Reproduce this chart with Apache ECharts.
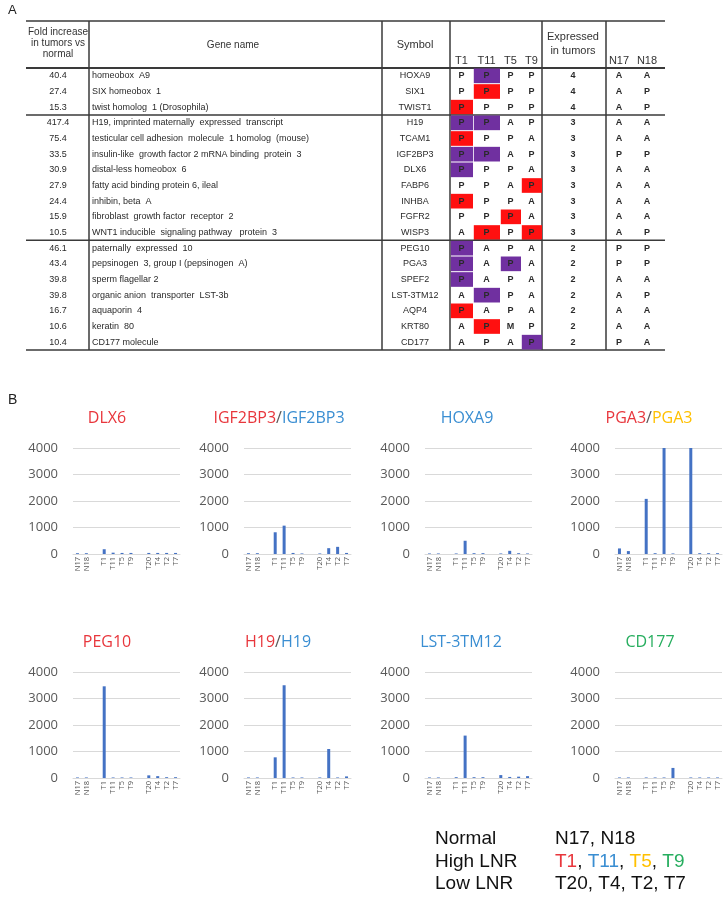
<!DOCTYPE html>
<html><head><meta charset="utf-8">
<script src="https://cdn.jsdelivr.net/npm/echarts@6/dist/echarts.min.js"></script>
<style>html,body{margin:0;padding:0;background:#fff}#c{width:724px;height:899px}</style>
</head><body><div id="c"></div>
<script>
// ---------------- Table (panel A) data ----------------
const foldIncrease = ['40.4','27.4','15.3','417.4','75.4','33.5','30.9','27.9','24.4','15.9','10.5','46.1','43.4','39.8','39.8','16.7','10.6','10.4'];
const geneNames = ['homeobox  A9','SIX homeobox  1','twist homolog  1 (Drosophila)','H19, imprinted maternally  expressed  transcript','testicular cell adhesion  molecule  1 homolog  (mouse)','insulin-like  growth factor 2 mRNA binding  protein  3','distal-less homeobox  6','fatty acid binding protein 6, ileal','inhibin, beta  A','fibroblast  growth factor  receptor  2','WNT1 inducible  signaling pathway   protein  3','paternally  expressed  10','pepsinogen  3, group I (pepsinogen  A)','sperm flagellar 2','organic anion  transporter  LST-3b','aquaporin  4','keratin  80','CD177 molecule'];
const symbols = ['HOXA9','SIX1','TWIST1','H19','TCAM1','IGF2BP3','DLX6','FABP6','INHBA','FGFR2','WISP3','PEG10','PGA3','SPEF2','LST-3TM12','AQP4','KRT80','CD177'];
const tumorColumns = ['T1','T11','T5','T9'];
const tumorCalls = ['PPPP','PPPP','PPPP','PPAP','PPPA','PPAP','PPPA','PPAP','PPPA','PPPA','APPP','PAPA','PAPA','PAPA','APPA','PAPA','APMP','APAP'];
// V = purple highlight, R = red highlight, - = none
const tumorHighlight = ['-V--','-R--','R---','VV--','R---','VV--','V---','---R','R---','--R-','-R-R','V---','V-V-','V---','-V--','R---','-R--','---V'];
const expressedInTumors = [4,4,4,3,3,3,3,3,3,3,3,2,2,2,2,2,2,2];
const normalColumns = ['N17','N18'];
const normalCalls = ['AA','AP','AP','AA','AA','PP','AA','AA','AA','AA','AP','PP','PP','AA','AP','AA','AA','PA'];
const groupBreaks = [3, 11];

// ---------------- Bar charts (panel B) data ----------------
const barCategories = ['N17','N18','','T1','T11','T5','T9','','T20','T4','T2','T7'];
const yTicks = [0, 1000, 2000, 3000, 4000];
const chartTitles = [
  [['DLX6','red']],
  [['IGF2BP3','red'],['/','grey'],['IGF2BP3','blue']],
  [['HOXA9','blue']],
  [['PGA3','red'],['/','grey'],['PGA3','yellow']],
  [['PEG10','red']],
  [['H19','red'],['/','grey'],['H19','blue']],
  [['LST-3TM12','blue']],
  [['CD177','green']]
];
const dlx6    = [30, 30, null, 180, 50, 40, 40, null, 40, 40, 40, 40];
const igf2bp3 = [30, 30, null, 820, 1070, 40, 20, null, 20, 220, 270, 40];
const hoxa9   = [20, 20, null, 20, 500, 30, 30, null, 20, 120, 30, 20];
const pga3    = [210, 110, null, 2080, 30, 4000, 20, null, 4000, 30, 30, 30];
const peg10   = [20, 20, null, 3460, 20, 20, 20, null, 100, 70, 30, 30];
const h19     = [20, 20, null, 780, 3500, 20, 20, null, 20, 1095, 20, 60];
const lst3tm12= [20, 20, null, 30, 1600, 30, 30, null, 110, 40, 50, 70];
const cd177   = [20, 20, null, 20, 20, 20, 380, null, 20, 20, 20, 20];
const chartSeries = [dlx6, igf2bp3, hoxa9, pga3, peg10, h19, lst3tm12, cd177];

// ---------------- Legend text ----------------
const legendRows = [
  ['Normal', [['N17, N18','black']]],
  ['High LNR', [['T1','red'],[', ','black'],['T11','blue'],[', ','black'],['T5','yellow'],[', ','black'],['T9','green']]],
  ['Low LNR', [['T20, T4, T2, T7','black']]]
];

// ---------------- Styles / layout ----------------
const palette = {red:'#E8363C', blue:'#3A8ED2', yellow:'#FFC000', green:'#27AE5F', grey:'#595959', black:'#111'};
const tableFont = '"Liberation Sans", Arial, sans-serif';
const chartFont = '"Open Sans", sans-serif';
const tbl = {left:26, right:665, top:21, headBottom:68, bottom:350,
  vlines:[89,382,450,542,606], foldX:58, geneX:92, symX:415,
  tCells:[[450,473],[473,500],[500,521],[521,542]], exprX:573, nX:[619,647]};
const hiColor = {V:'#7030A0', R:'#FF1010'};
const gridLefts = [73, 244, 425, 615];
const gridTops = [448, 672];
const gridW = 107, gridH = 106;
const titleX = [107, 279, 467, 649, 107, 278, 461, 650];
const titleY = [418, 642];

const chart = echarts.init(document.getElementById('c'), null, {renderer:'canvas'});

// ---- graphics: table frame/header, panel labels, chart titles, legend ----
const graphics = [];
const gText = (x, y, text, opts) => graphics.push(Object.assign({type:'text', x, y, silent:true,
  style: Object.assign({text, fill:'#333', font:'10px ' + tableFont, align:'center', verticalAlign:'middle'}, opts||{})}));
const gLine = (x1,y1,x2,y2,w) => graphics.push({type:'line', silent:true, shape:{x1,y1,x2,y2}, style:{stroke:'#3a3a3a', lineWidth:w||1.3}});

gText(8, 10, 'A', {align:'left', font:'13px ' + tableFont, fill:'#222'});
gText(8, 400, 'B', {align:'left', font:'14px ' + tableFont, fill:'#222'});

gLine(tbl.left, tbl.top, tbl.right, tbl.top, 1.5);
gLine(tbl.left, tbl.headBottom, tbl.right, tbl.headBottom, 2);
gLine(tbl.left, tbl.bottom, tbl.right, tbl.bottom, 1.5);
tbl.vlines.forEach(x => gLine(x, tbl.top, x, tbl.bottom, 1.5));

gText(tbl.foldX, 32, 'Fold increase');
gText(tbl.foldX, 43, 'in tumors vs');
gText(tbl.foldX, 54, 'normal');
gText(233, 45, 'Gene name');
gText(tbl.symX, 45, 'Symbol', {font:'11px ' + tableFont});
tumorColumns.forEach((t,i) => gText((tbl.tCells[i][0]+tbl.tCells[i][1])/2, 61, t, {font:'11px ' + tableFont}));
gText(tbl.exprX, 37, 'Expressed', {font:'11px ' + tableFont});
gText(tbl.exprX, 51, 'in tumors', {font:'11px ' + tableFont});
normalColumns.forEach((n,i) => gText(tbl.nX[i], 61, n, {font:'11px ' + tableFont}));

function richFromParts(parts, size, family){
  const rich = {}; let text = '';
  parts.forEach((p, i) => {
    const key = 's' + i;
    rich[key] = {fill: palette[p[1]], font: size + 'px ' + family};
    text += '{' + key + '|' + p[0] + '}';
  });
  return {text, rich};
}
chartTitles.forEach((parts, i) => {
  const r = richFromParts(parts, 16, chartFont);
  graphics.push({type:'text', silent:true, x: titleX[i], y: titleY[Math.floor(i/4)],
    style:{text:r.text, rich:r.rich, align:'center', verticalAlign:'middle', font:'16px ' + chartFont}});
});

legendRows.forEach((row, i) => {
  const y = 839 + i * 22.5;
  gText(435, y, row[0], {align:'left', font:'19px ' + tableFont, fill:'#111'});
  const r = richFromParts(row[1], 19, tableFont);
  graphics.push({type:'text', silent:true, x:555, y,
    style:{text:r.text, rich:r.rich, align:'left', verticalAlign:'middle', font:'19px ' + tableFont}});
});

// ---- grids and axes ----
const grids = [], xAxes = [], yAxes = [], series = [];
// table grid (index 0): rows as category axis, x in page pixels
grids.push({left:0, right:0, top:tbl.headBottom, height:tbl.bottom - tbl.headBottom});
xAxes.push({type:'value', gridIndex:0, min:0, max:724, show:false});
yAxes.push({type:'category', gridIndex:0, data:symbols, inverse:true, show:false});
const rowIdx = symbols.map((s,i) => [i]);
series.push({
  type:'custom', xAxisIndex:0, yAxisIndex:0, data:rowIdx, silent:true,
  renderItem(params, api){
    const r = api.value(0);
    const yc = api.coord([0, r])[1];
    const h = api.size([0, 1])[1];
    const kids = [];
    const t = (x, s, align, font) => kids.push({type:'text', x, y:yc,
      style:{text:s, fill:'#2a2a2a', align, verticalAlign:'middle', font: font || ('9px ' + tableFont)}});
    t(tbl.foldX, foldIncrease[r], 'center');
    t(tbl.geneX, geneNames[r], 'left', '9px ' + tableFont);
    t(tbl.symX, symbols[r], 'center');
    for (let k = 0; k < 4; k++) {
      const hl = tumorHighlight[r][k];
      const c = tbl.tCells[k];
      if (hl !== '-') kids.push({type:'rect', shape:{x:c[0]+0.8, y:yc - h/2 + 0.5, width:c[1]-c[0]-0.8, height:h-1},
        style:{fill:hiColor[hl]}});
      t((c[0]+c[1])/2, tumorCalls[r][k], 'center', 'bold 9px ' + tableFont);
    }
    t(tbl.exprX, String(expressedInTumors[r]), 'center', 'bold 9px ' + tableFont);
    for (let k = 0; k < 2; k++) t(tbl.nX[k], normalCalls[r][k], 'center', 'bold 9px ' + tableFont);
    if (groupBreaks.indexOf(r + 1) >= 0) kids.push({type:'line',
      shape:{x1:tbl.left, y1:yc + h/2, x2:tbl.right, y2:yc + h/2}, style:{stroke:'#3a3a3a', lineWidth:1.5}});
    return {type:'group', children:kids};
  }
});

chartSeries.forEach((vals, i) => {
  const gi = i + 1;
  grids.push({left:gridLefts[i % 4], top:gridTops[Math.floor(i/4)], width:gridW, height:gridH});
  xAxes.push({type:'category', gridIndex:gi, data:barCategories,
    axisLine:{show:true, lineStyle:{color:'#D9D9D9'}}, axisTick:{show:false},
    axisLabel:{interval:0, rotate:90, fontSize:7.5, color:'#595959', margin:3, fontFamily:chartFont}});
  yAxes.push({type:'value', gridIndex:gi, min:yTicks[0], max:yTicks[yTicks.length-1], interval:yTicks[1]-yTicks[0],
    axisLine:{show:false}, axisTick:{show:false},
    splitLine:{lineStyle:{color:'#D9D9D9', width:1}},
    axisLabel:{fontSize:13, color:'#595959', margin:15, fontFamily:chartFont, formatter: v => String(v)}});
  series.push({type:'bar', xAxisIndex:gi, yAxisIndex:gi, data:vals, barWidth:3,
    itemStyle:{color:'#4472C4'}, silent:true, animation:false});
});

chart.setOption({
  animation:false,
  backgroundColor:'#fff',
  grid:grids, xAxis:xAxes, yAxis:yAxes, series, graphic:graphics
});
</script></body></html>
